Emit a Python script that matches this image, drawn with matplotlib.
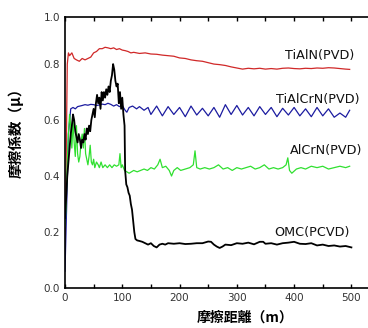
import matplotlib.pyplot as plt

plt.rcParams['font.family'] = ['DejaVu Sans', 'Noto Sans CJK JP']

# TiAlN(PVD)
red_x = [0, 2, 4, 6, 8, 12, 16, 20, 25, 30, 35, 40, 45, 50, 55, 60, 65, 70, 75, 80,
         85, 90, 95, 100, 105, 110, 115, 120, 130, 140, 150, 160, 170, 180, 190, 200,
         210, 220, 230, 240, 250, 260, 270, 280, 290, 300, 310, 320, 330, 340, 350,
         360, 370, 380, 390, 400, 410, 420, 430, 440, 450, 460, 470, 480, 490, 497]
red_y = [0.10, 0.45, 0.80, 0.84, 0.83, 0.84, 0.82, 0.815, 0.81, 0.82, 0.815, 0.82,
         0.825, 0.84, 0.845, 0.855, 0.855, 0.86, 0.858, 0.855, 0.858, 0.852, 0.855,
         0.85, 0.848, 0.845, 0.84, 0.842, 0.838, 0.84, 0.836, 0.835, 0.832, 0.83,
         0.828, 0.822, 0.82, 0.815, 0.812, 0.81, 0.805, 0.80, 0.798, 0.795, 0.79,
         0.786, 0.782, 0.785, 0.783, 0.785, 0.782, 0.784, 0.782, 0.785, 0.786, 0.784,
         0.783, 0.785, 0.784, 0.786, 0.785, 0.787, 0.786, 0.784, 0.782, 0.781]

# TiAlCrN(PVD)
blue_x = [0, 3, 6, 10, 14, 18, 22, 26, 30, 35, 40, 45, 50, 55, 60, 65, 70, 75, 80,
          85, 90, 95, 100, 105, 108, 112, 118, 125, 130, 138, 145, 150, 160, 170, 180,
          190, 200, 210, 220, 230, 240, 250, 260, 270, 280, 290, 300, 310, 320, 330,
          340, 350, 360, 370, 380, 390, 400, 410, 420, 430, 440, 450, 460, 470, 480,
          490, 497]
blue_y = [0.06, 0.30, 0.55, 0.64, 0.645, 0.64, 0.648, 0.65, 0.652, 0.655, 0.653,
          0.656, 0.655, 0.652, 0.654, 0.657, 0.655, 0.66, 0.656, 0.65, 0.655, 0.648,
          0.652, 0.635, 0.628, 0.645, 0.65, 0.64, 0.648, 0.635, 0.645, 0.62, 0.65,
          0.615, 0.648, 0.62, 0.645, 0.612, 0.65, 0.618, 0.642, 0.615, 0.645, 0.61,
          0.655, 0.62, 0.652, 0.618, 0.645, 0.615, 0.648, 0.62, 0.645, 0.612, 0.642,
          0.618, 0.645, 0.615, 0.64, 0.612, 0.645, 0.615, 0.64, 0.61, 0.625, 0.61,
          0.635]

# AlCrN(PVD)
green_x = [0, 2, 4, 6, 8, 10, 12, 14, 16, 18, 20, 22, 24, 26, 28, 30, 32, 34, 36, 38,
           40, 42, 44, 46, 48, 50, 52, 55, 58, 60, 63, 66, 70, 74, 78, 82, 86, 90, 94,
           96, 98, 100, 104, 108, 112, 116, 120, 126, 132, 138, 144, 150, 156, 162,
           166, 170, 176, 182, 186, 190, 196, 202, 210, 218, 224, 227, 230, 236, 244,
           252, 260, 268, 276, 284, 292, 300, 308, 316, 324, 332, 340, 348, 356, 364,
           372, 380, 386, 389, 392, 396, 404, 412, 420, 430, 440, 450, 460, 470, 480,
           490, 497]
green_y = [0.22, 0.30, 0.45, 0.55, 0.62, 0.58, 0.50, 0.60, 0.52, 0.47, 0.58, 0.48,
           0.45, 0.47, 0.52, 0.55, 0.50, 0.57, 0.48, 0.46, 0.44, 0.47, 0.51, 0.45,
           0.44, 0.46, 0.43, 0.45, 0.44, 0.43, 0.45, 0.43, 0.44, 0.43, 0.44, 0.43,
           0.44, 0.435, 0.44, 0.48, 0.43, 0.44, 0.42, 0.415, 0.41, 0.415, 0.42, 0.415,
           0.42, 0.425, 0.42, 0.43, 0.425, 0.44, 0.46, 0.43, 0.435, 0.42, 0.40, 0.42,
           0.43, 0.42, 0.425, 0.43, 0.44, 0.49, 0.43, 0.425, 0.43, 0.425, 0.43, 0.44,
           0.425, 0.43, 0.42, 0.43, 0.425, 0.43, 0.435, 0.425, 0.43, 0.44, 0.425,
           0.43, 0.425, 0.43, 0.44, 0.465, 0.42, 0.41, 0.425, 0.43, 0.425, 0.435,
           0.43, 0.435, 0.425, 0.43, 0.435, 0.43, 0.435]

# OMC(PCVD)
black_x = [0, 2, 4, 6, 8, 10, 12, 14, 16, 18, 20, 22, 24, 26, 28, 30, 32, 34, 36, 38,
           40, 42, 44, 46, 48, 50, 52, 54, 56, 58, 60, 62, 64, 66, 68, 70, 72, 74, 76,
           78, 80, 82, 84, 86, 88, 90, 92, 94, 96, 98, 100, 102, 104, 105, 107, 109,
           111, 113, 115, 117, 119, 121, 123, 126, 130, 135, 140, 145, 150, 155, 160,
           165, 170, 175, 180, 190, 200, 210, 220, 230, 240, 250, 255, 260, 265, 270,
           275, 280, 290, 300, 310, 320, 330, 340, 346, 350, 360, 370, 380, 390, 400,
           410, 420, 430, 440, 450, 460, 470, 480, 490, 500]
black_y = [0.25, 0.32, 0.40, 0.45, 0.50, 0.55, 0.58, 0.62, 0.60, 0.56, 0.54, 0.52,
           0.55, 0.53, 0.50, 0.53, 0.52, 0.55, 0.53, 0.57, 0.55, 0.58, 0.56, 0.60,
           0.62, 0.64, 0.61, 0.66, 0.69, 0.66, 0.68, 0.64, 0.70, 0.67, 0.70, 0.68,
           0.71, 0.69, 0.72, 0.70, 0.74, 0.76, 0.80, 0.78, 0.74, 0.72, 0.73, 0.66,
           0.70, 0.64, 0.68, 0.62, 0.58, 0.42, 0.37, 0.36, 0.34, 0.33, 0.30, 0.28,
           0.24, 0.20, 0.175, 0.17, 0.168, 0.165, 0.16, 0.155, 0.16, 0.15, 0.145,
           0.155, 0.158, 0.155, 0.16, 0.158, 0.16, 0.157, 0.158, 0.16, 0.16, 0.166,
           0.165, 0.155, 0.148, 0.143, 0.148, 0.155, 0.153, 0.16, 0.158, 0.162, 0.156,
           0.165, 0.165, 0.158, 0.16, 0.155, 0.16, 0.162, 0.165, 0.158, 0.157, 0.16,
           0.152, 0.155, 0.15, 0.152, 0.148, 0.15, 0.145]

labels = ['TiAlN(PVD)', 'TiAlCrN(PVD)', 'AlCrN(PVD)', 'OMC(PCVD)']
label_x = [445, 441, 455, 431]
label_y = [0.83, 0.675, 0.49, 0.2]

fig = plt.figure(figsize=(3.68, 3.28), dpi=100)
ax = fig.add_axes([0.1766, 0.122, 0.8234, 0.826])

ax.plot(red_x, red_y, color='#d02828', lw=0.9)
ax.plot(blue_x, blue_y, color='#1c1ca0', lw=0.9)
ax.plot(green_x, green_y, color='#30e030', lw=0.9)
ax.plot(black_x, black_y, color='black', lw=1.3)

for t, x, y in zip(labels, label_x, label_y):
    ax.text(x, y, t, fontsize=9.2, ha='center', va='center', color='#111111')

ax.set_xlim(0, 529)
ax.set_ylim(0, 0.968)
ax.set_xticks([0, 100, 200, 300, 400, 500])
ax.set_xticks([50, 150, 250, 350, 450], minor=True)
ax.set_yticks([0, 0.2, 0.4, 0.6, 0.8, 0.968])
ax.set_yticklabels(['0.0', '0.2', '0.4', '0.6', '0.8', '1.0'])
ax.tick_params(axis='both', which='both', direction='in', labelsize=7.5,
               labelcolor='#333333', top=True, length=3, width=1)
ax.tick_params(axis='y', length=0)
for s in ['left', 'bottom', 'top']:
    ax.spines[s].set_linewidth(1.2)
ax.spines['right'].set_visible(False)

ax.set_xlabel('摩擦距離（m）', family=['Noto Sans CJK JP'], fontweight='bold',
              fontsize=10)
ax.xaxis.set_label_coords(0.594, -0.085)
ax.set_ylabel('摩擦係数（μ）', family=['Noto Sans CJK JP'], fontweight='bold',
              fontsize=10.5)
ax.yaxis.set_label_coords(-0.135, 0.587)

fig.savefig('out.png', dpi=100)
